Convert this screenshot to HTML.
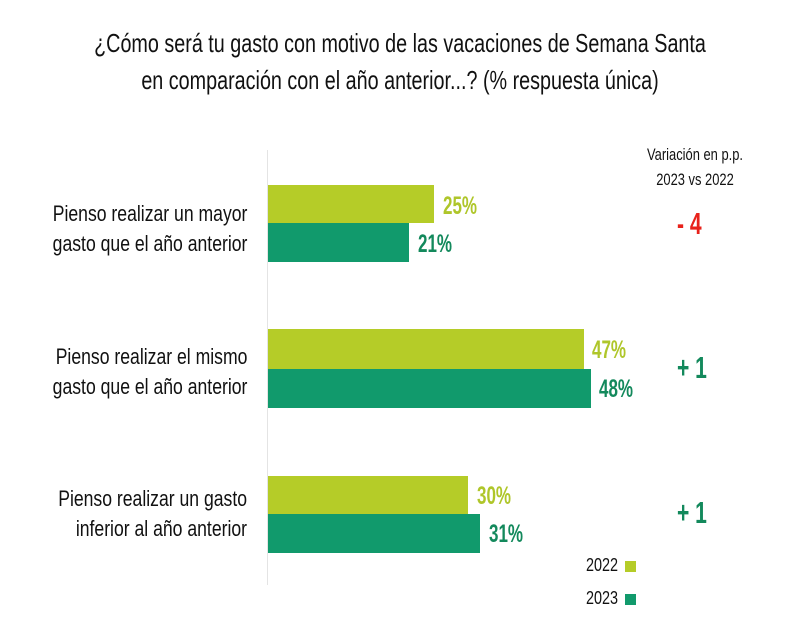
<!DOCTYPE html><html><head><style>
body{margin:0;width:794px;height:643px;background:#fff;position:relative;overflow:hidden;font-family:"Liberation Sans Narrow","Liberation Sans",sans-serif}
.t{position:absolute;white-space:nowrap;color:#111}
.c{transform:translateX(-50%) scaleX(.76);transform-origin:center}
.l{transform:scaleX(.8);transform-origin:left}
.r{transform:scaleX(.8);transform-origin:right;text-align:right}
.n{transform:scaleX(.68);transform-origin:left;font-weight:bold}
.b{position:absolute;left:268px}
.g1{background:#b5cc28}.g2{background:#119a6c}
.p1{color:#afc62a;font-size:25px}.p2{color:#13895c;font-size:25px}
</style></head><body>
<div class="t c" style="left:400px;top:28px;font-size:26px">¿Cómo será tu gasto con motivo de las vacaciones de Semana Santa</div>
<div class="t c" style="left:400px;top:65px;font-size:26px">en comparación con el año anterior...? (% respuesta única)</div>
<div style="position:absolute;left:267px;top:150px;width:1px;height:435px;background:#e4e4e4"></div>
<div class="t c" style="left:695px;top:145px;font-size:17px">Variación en p.p.</div>
<div class="t c" style="left:695px;top:170px;font-size:17px">2023 vs 2022</div>

<div class="t r" style="right:547px;top:199px;font-size:22px;line-height:30px">Pienso realizar un mayor<br>gasto que el año anterior</div>
<div class="b g1" style="top:185px;width:166px;height:38px"></div>
<div class="b g2" style="top:223px;width:141px;height:39px"></div>
<div class="t n p1" style="left:443px;top:192px">25%</div>
<div class="t n p2" style="left:418px;top:230px">21%</div>
<div class="t n" style="left:677px;top:206px;font-size:31px;color:#e8221b">- 4</div>

<div class="t r" style="right:547px;top:342px;font-size:22px;line-height:30px">Pienso realizar el mismo<br>gasto que el año anterior</div>
<div class="b g1" style="top:329px;width:316px;height:40px"></div>
<div class="b g2" style="top:369px;width:323px;height:39px"></div>
<div class="t n p1" style="left:592px;top:336px">47%</div>
<div class="t n p2" style="left:599px;top:375px">48%</div>
<div class="t n" style="left:677px;top:350px;font-size:31px;color:#13895c">+ 1</div>

<div class="t r" style="right:547px;top:484px;font-size:22px;line-height:30px">Pienso realizar un gasto<br>inferior al año anterior</div>
<div class="b g1" style="top:476px;width:200px;height:38px"></div>
<div class="b g2" style="top:514px;width:212px;height:39px"></div>
<div class="t n p1" style="left:477px;top:482px">30%</div>
<div class="t n p2" style="left:489px;top:520px">31%</div>
<div class="t n" style="left:677px;top:495px;font-size:31px;color:#13895c">+ 1</div>

<div class="t l" style="left:586px;top:555px;font-size:18px">2022</div>
<div style="position:absolute;left:625px;top:561px;width:11px;height:11px;background:#b5cc28"></div>
<div class="t l" style="left:586px;top:588px;font-size:18px">2023</div>
<div style="position:absolute;left:625px;top:594px;width:11px;height:11px;background:#119a6c"></div>
</body></html>
